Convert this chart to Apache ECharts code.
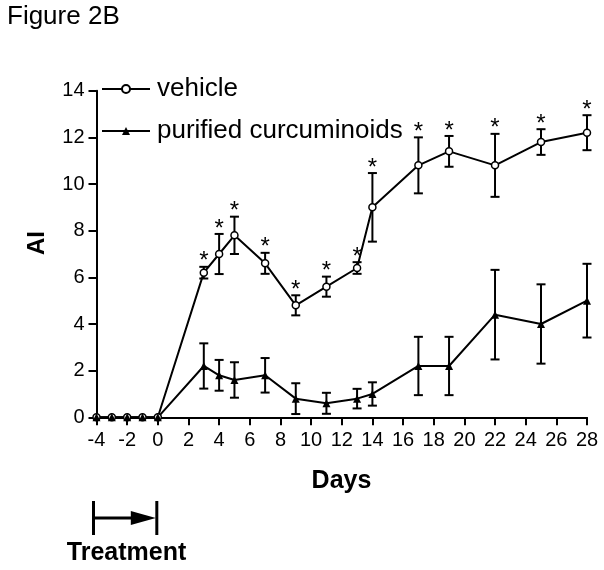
<!DOCTYPE html>
<html><head><meta charset="utf-8">
<script src="https://cdn.jsdelivr.net/npm/echarts@6/dist/echarts.min.js"></script>
<style>html,body{margin:0;padding:0;background:#fff}#c{width:604px;height:570px}</style>
</head><body><div id="c"></div>
<script>
// ---- data ----
const days = [-4, -3, -2, -1, 0, 3, 4, 5, 7, 9, 11, 13, 14, 17, 19, 22, 25, 28];
const vehicle = [0, 0, 0, 0, 0, 6.2, 7.0, 7.8, 6.6, 4.8, 5.6, 6.4, 9.0, 10.8, 11.4, 10.8, 11.8, 12.2];
const vehicleErr = [0, 0, 0, 0, 0, 0.25, 0.86, 0.8, 0.45, 0.43, 0.43, 0.25, 1.47, 1.2, 0.66, 1.35, 0.55, 0.75];
const curcuminoids = [0, 0, 0, 0, 0, 2.2, 1.8, 1.6, 1.8, 0.8, 0.6, 0.8, 1.0, 2.2, 2.2, 4.4, 4.0, 5.0];
const curcuminoidsErr = [0, 0, 0, 0, 0, 0.97, 0.66, 0.76, 0.74, 0.66, 0.45, 0.42, 0.5, 1.25, 1.25, 1.92, 1.7, 1.58];
const significant = [0, 0, 0, 0, 0, 1, 1, 1, 1, 1, 1, 1, 1, 1, 1, 1, 1, 1];
const seriesNames = ['vehicle', 'purified curcuminoids'];
const treatmentDays = [-4, 0];
const xTicks = { min: -4, max: 28, step: 2 };
const yTicks = { min: 0, max: 14, step: 2 };

const FONT = '"Liberation Sans", Arial, Helvetica, sans-serif';
const chart = echarts.init(document.getElementById('c'), null, { renderer: 'canvas' });

function errData(vals, errs, stars) {
  return days.map((d, i) => [d, vals[i], errs[i], stars ? stars[i] : 0]);
}

function renderErr(params, api) {
  const x = api.value(0), y = api.value(1), e = api.value(2), s = api.value(3);
  const children = [];
  const top = api.coord([x, y + e]);
  if (e > 0) {
    const bot = api.coord([x, y - e]);
    const hw = 4.5;
    const st = { stroke: '#000', lineWidth: 2 };
    children.push({ type: 'line', shape: { x1: top[0], y1: top[1], x2: bot[0], y2: bot[1] }, style: st });
    children.push({ type: 'line', shape: { x1: top[0] - hw, y1: top[1], x2: top[0] + hw, y2: top[1] }, style: st });
    children.push({ type: 'line', shape: { x1: bot[0] - hw, y1: bot[1], x2: bot[0] + hw, y2: bot[1] }, style: st });
  }
  if (s) {
    children.push({ type: 'text', x: top[0], y: top[1] - 5,
      style: { text: '*', fontSize: 24, fontFamily: FONT, fill: '#000', align: 'center', verticalAlign: 'middle' } });
  }
  return { type: 'group', children };
}

const option = {
  animation: false,
  backgroundColor: '#fff',
  grid: { left: 96.5, right: 17, top: 90.7, bottom: 152.7, containLabel: false },
  legend: {
    data: seriesNames,
    orient: 'vertical', left: 101, top: 76, padding: 0,
    itemWidth: 48, itemHeight: 10, itemGap: 16,
    selectedMode: false,
    textStyle: { fontSize: 26, fontFamily: FONT, color: '#000', padding: [0, 0, 0, 2] }
  },
  xAxis: {
    type: 'value', min: xTicks.min, max: xTicks.max, interval: xTicks.step,
    axisLine: { onZero: false, lineStyle: { color: '#000', width: 2 } },
    axisTick: { length: 8, lineStyle: { color: '#000', width: 2 } },
    axisLabel: { fontSize: 20, fontFamily: FONT, color: '#000', margin: 13 },
    splitLine: { show: false }
  },
  yAxis: {
    type: 'value', min: yTicks.min, max: yTicks.max, interval: yTicks.step,
    axisLine: { show: true, onZero: false, lineStyle: { color: '#000', width: 2 } },
    axisTick: { show: true, length: 8, lineStyle: { color: '#000', width: 2 } },
    axisLabel: { fontSize: 20, fontFamily: FONT, color: '#000', margin: 12 },
    splitLine: { show: false }
  },
  graphic: [
    { id: 'fig', type: 'text', x: 7, y: 17, style: { text: 'Figure 2B', fontSize: 26, fontFamily: FONT, fill: '#000', align: 'left', verticalAlign: 'middle' } },
    { id: 'ai', type: 'text', x: 37, y: 243, rotation: Math.PI / 2, style: { text: 'AI', fontSize: 24, fontWeight: 'bold', fontFamily: FONT, fill: '#000', align: 'center', verticalAlign: 'middle' } },
    { id: 'days', type: 'text', x: 341.5, y: 481, style: { text: 'Days', fontSize: 25, fontWeight: 'bold', fontFamily: FONT, fill: '#000', align: 'center', verticalAlign: 'middle' } },
    { id: 'treat', type: 'text', x: 126.5, y: 553, style: { text: 'Treatment', fontSize: 25, fontWeight: 'bold', fontFamily: FONT, fill: '#000', align: 'center', verticalAlign: 'middle' } }
  ],
  series: [
    { type: 'custom', name: 'vehErr', renderItem: renderErr, data: errData(vehicle, vehicleErr, significant), z: 1, silent: true },
    { type: 'custom', name: 'curErr', renderItem: renderErr, data: errData(curcuminoids, curcuminoidsErr, null), z: 1, silent: true },
    {
      type: 'line', name: seriesNames[0], data: days.map((d, i) => [d, vehicle[i]]),
      symbol: 'circle', symbolSize: 7, showAllSymbol: true, z: 3,
      color: '#000',
      lineStyle: { color: '#000', width: 2 },
      itemStyle: { color: '#fff', borderColor: '#000', borderWidth: 1.5 }
    },
    {
      type: 'line', name: seriesNames[1], data: days.map((d, i) => [d, curcuminoids[i]]),
      symbol: 'triangle', symbolSize: 8, showAllSymbol: true, z: 3,
      color: '#000',
      lineStyle: { color: '#000', width: 2 },
      itemStyle: { color: '#000', borderColor: '#000', borderWidth: 0 }
    }
  ]
};
chart.setOption(option);

// treatment bracket arrow tied to the day axis
const p0 = chart.convertToPixel({ gridIndex: 0 }, [treatmentDays[0], 0]);
const p1 = chart.convertToPixel({ gridIndex: 0 }, [treatmentDays[1], 0]);
const xl = p0[0] - 3, xr = p1[0] - 1;
const yc = 518, half = 17;
chart.setOption({
  graphic: [
    { id: 'barL', type: 'line', shape: { x1: xl, y1: yc - half, x2: xl, y2: yc + half }, style: { stroke: '#000', lineWidth: 3 } },
    { id: 'barR', type: 'line', shape: { x1: xr, y1: yc - half, x2: xr, y2: yc + half }, style: { stroke: '#000', lineWidth: 3 } },
    { id: 'shaft', type: 'line', shape: { x1: xl, y1: yc, x2: xr - 24, y2: yc }, style: { stroke: '#000', lineWidth: 3 } },
    { id: 'head', type: 'polygon', shape: { points: [[xr - 26, yc - 7], [xr - 1, yc], [xr - 26, yc + 7]] }, style: { fill: '#000' } }
  ]
});
</script>
</body></html>
